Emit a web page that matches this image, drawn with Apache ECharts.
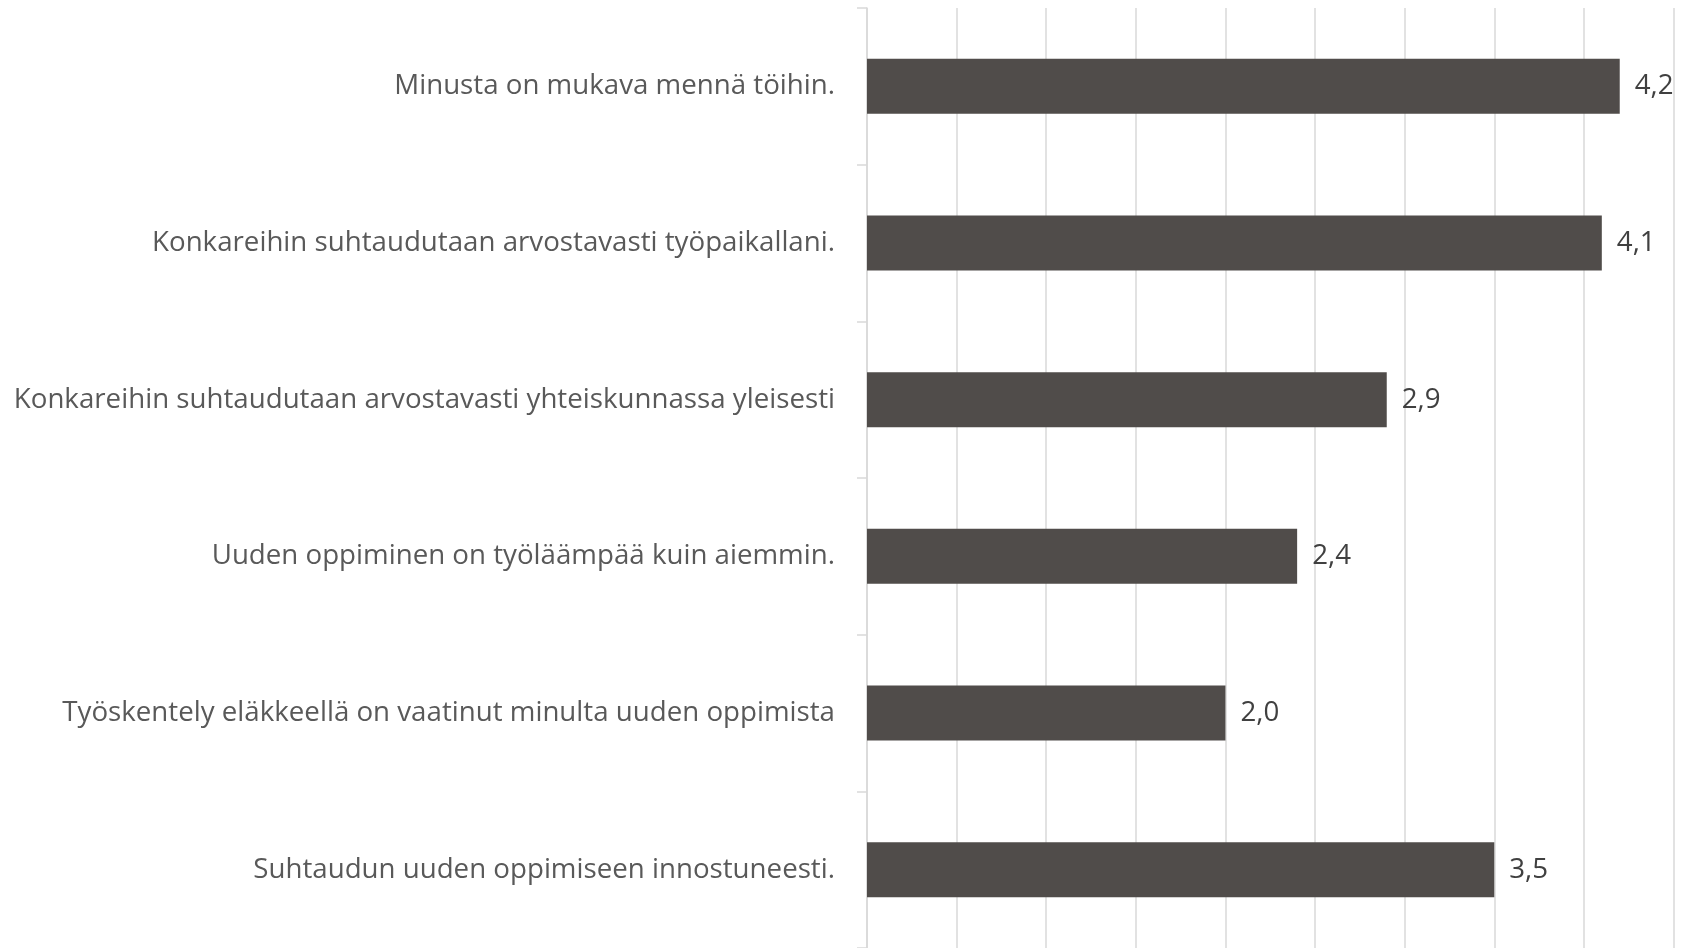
<!DOCTYPE html>
<html>
<head>
<meta charset="utf-8">
<script src="https://cdn.jsdelivr.net/npm/echarts@6/dist/echarts.min.js"></script>
<style>
  html, body { margin: 0; padding: 0; background: #fff; }
  #chart { width: 1682px; height: 948px; }
</style>
</head>
<body>
<div id="chart"></div>
<script>
// kysymykset ylhäältä alas
var categories = [
  'Minusta on mukava mennä töihin.',
  'Konkareihin suhtaudutaan arvostavasti työpaikallani.',
  'Konkareihin suhtaudutaan arvostavasti yhteiskunnassa yleisesti',
  'Uuden oppiminen on työläämpää kuin aiemmin.',
  'Työskentely eläkkeellä on vaatinut minulta uuden oppimista',
  'Suhtaudun uuden oppimiseen innostuneesti.'
];
var values = [4.2, 4.1, 2.9, 2.4, 2.0, 3.5];

var myChart = echarts.init(document.getElementById('chart'));

var option = {
  animation: false,
  grid: {
    left: 867,
    right: 8.5,
    top: 8,
    height: 942
  },
  xAxis: {
    type: 'value',
    min: 0,
    max: 4.5,
    interval: 0.5,
    axisLabel: { show: false },
    axisLine: { show: false },
    axisTick: { show: false },
    splitLine: { show: true, lineStyle: { color: '#d9d9d9', width: 1.5 } }
  },
  yAxis: {
    type: 'category',
    inverse: true,
    data: categories,
    axisLine: { show: true, lineStyle: { color: '#d9d9d9', width: 1.5 } },
    axisTick: { show: true, length: 10, lineStyle: { color: '#d9d9d9', width: 1.5 } },
    axisLabel: {
      margin: 32,
      color: '#595959',
      fontFamily: 'Open Sans',
      fontSize: 27.7,
      padding: [0, 0, 8, 0]
    }
  },
  series: [{
    type: 'bar',
    barWidth: 55,
    data: values,
    itemStyle: { color: '#504c4a' },
    label: {
      show: true,
      position: 'right',
      distance: 15,
      color: '#404040',
      fontFamily: 'Open Sans',
      fontSize: 27.7,
      padding: [0, 0, 8, 0],
      formatter: function (p) {
        return p.value.toFixed(1).replace('.', ',');
      }
    }
  }]
};

myChart.setOption(option);
</script>
</body>
</html>
